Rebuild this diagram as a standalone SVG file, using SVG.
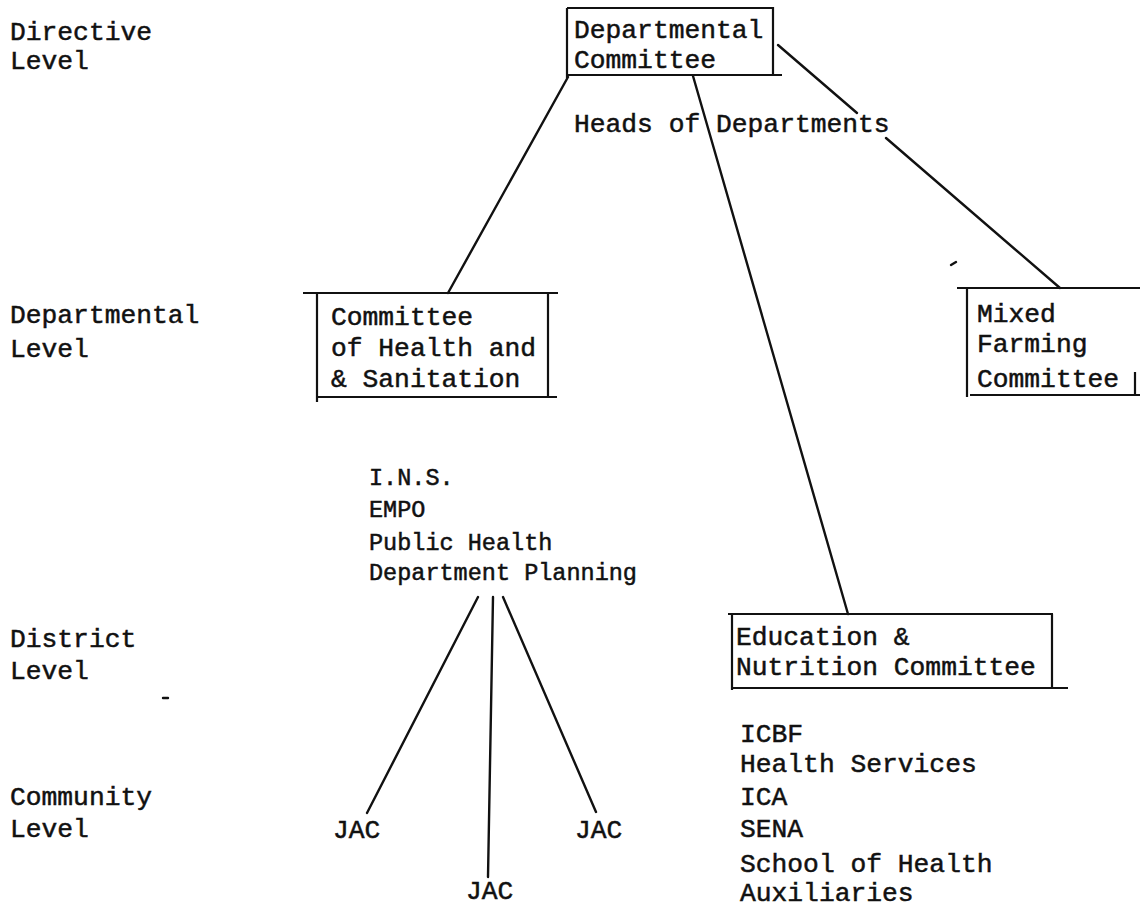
<svg xmlns="http://www.w3.org/2000/svg" width="1140" height="909" viewBox="0 0 1140 909">
<style>
text{font-family:"Liberation Mono","DejaVu Sans Mono",monospace;font-size:26.3px;fill:#111;stroke:#111;stroke-width:0.5}
.sm{font-size:23.5px}
.ln{stroke:#111;stroke-width:2.4;fill:none;stroke-linecap:round}
.bx{stroke:#111;stroke-width:2.2;fill:none}
</style>
<rect width="1140" height="909" fill="#fff"/>
<g id="levels">
<text x="10" y="40">Directive</text>
<text x="10" y="69">Level</text>
<text x="10" y="323">Departmental</text>
<text x="10" y="357">Level</text>
<text x="10" y="647">District</text>
<text x="10" y="679">Level</text>
<text x="10" y="805">Community</text>
<text x="10" y="837">Level</text>
</g>
<g id="connectors">
<line class="ln" x1="568" y1="77" x2="448" y2="293"/>
<line class="ln" x1="693" y1="76" x2="848" y2="614"/>
<line class="ln" x1="778" y1="45" x2="857" y2="113"/>
<line class="ln" x1="886" y1="138" x2="1060" y2="288"/>
<line class="ln" x1="478" y1="597" x2="367" y2="813"/>
<line class="ln" x1="493" y1="597" x2="488" y2="877"/>
<line class="ln" x1="503" y1="597" x2="596" y2="812"/>
</g>
<g id="departmental-committee">
<path class="bx" d="M567,8 H773 V75 M567,8 V78 M567,75 H782"/>
<text x="574" y="38">Departmental</text>
<text x="574" y="68">Committee</text>
</g>
<g id="heads-label">
<text x="574" y="132">Heads of Departments</text>
</g>
<g id="health-committee">
<path class="bx" d="M303,293 H558 M317,293 V402 M548,293 V398 M317,397 H557"/>
<text x="331" y="325">Committee</text>
<text x="331" y="356">of Health and</text>
<text x="331" y="387">&amp; Sanitation</text>
</g>
<g id="mixed-farming">
<path class="bx" d="M957,288 H1140 M967,288 V397 M970,395 H1140 M1135,372 V394"/>
<text x="977" y="322">Mixed</text>
<text x="977" y="352">Farming</text>
<text x="977" y="387">Committee</text>
</g>
<g id="health-agencies">
<text class="sm" x="369" y="485">I.N.S.</text>
<text class="sm" x="369" y="517">EMPO</text>
<text class="sm" x="369" y="550">Public Health</text>
<text class="sm" x="369" y="580">Department Planning</text>
</g>
<g id="education-committee">
<path class="bx" d="M728,614 H1053 M732,614 V690 M1052,614 V687 M732,688 H1068"/>
<text x="736" y="645">Education &amp;</text>
<text x="736" y="675">Nutrition Committee</text>
</g>
<g id="education-agencies">
<text x="740" y="742">ICBF</text>
<text x="740" y="772">Health Services</text>
<text x="740" y="805">ICA</text>
<text x="740" y="837">SENA</text>
<text x="740" y="872">School of Health</text>
<text x="740" y="901">Auxiliaries</text>
</g>
<g id="jac-left"><text x="333" y="838">JAC</text></g>
<g id="jac-right"><text x="575" y="838">JAC</text></g>
<g id="jac-bottom"><text x="466" y="899">JAC</text></g>
<g id="marks">
<line class="ln" x1="163" y1="698" x2="168" y2="698" stroke-width="1.5"/>
<line class="ln" x1="951" y1="265" x2="956" y2="262" stroke-width="1.5"/>
</g>
</svg>
